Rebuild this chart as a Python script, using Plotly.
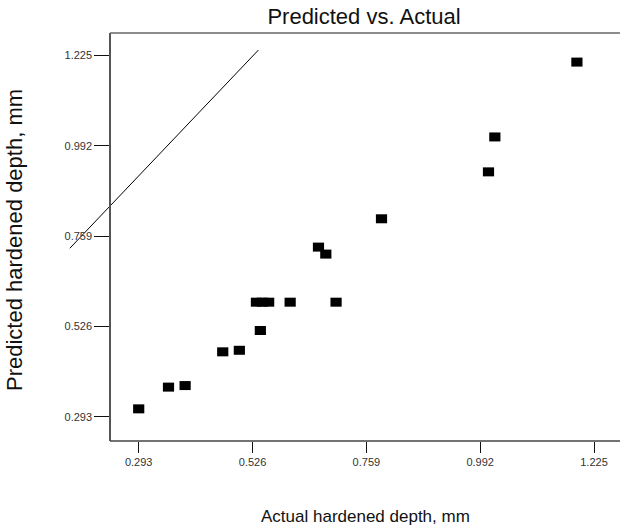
import plotly.graph_objects as go

# Data
actual = [0.293, 0.354, 0.388, 0.465, 0.499, 0.542, 0.534, 0.546, 0.559,
          0.603, 0.697, 0.661, 0.676, 0.790, 1.009, 1.022, 1.190]
predicted = [0.314, 0.370, 0.374, 0.461, 0.465, 0.516, 0.589, 0.589, 0.589,
             0.589, 0.589, 0.731, 0.713, 0.804, 0.925, 1.015, 1.208]
ref_line_x = [0.152, 0.538]
ref_line_y = [0.728, 1.239]
tick_vals = [0.293, 0.526, 0.759, 0.992, 1.225]
tick_text = ["0.293", "0.526", "0.759", "0.992", "1.225"]

FONT = "Liberation Sans, Arial, sans-serif"
W, H = 620, 530
ML, MR, MT, MB = 60, 0, 33, 89
PW = W - ML - MR
PH = H - MT - MB
AXIS_X_PX = 110  # pixel position of the vertical axis
axis_pos = (AXIS_X_PX - ML) / PW

fig = go.Figure()
fig.add_trace(go.Scatter(
    x=ref_line_x, y=ref_line_y, mode="lines",
    line=dict(color="black", width=1), hoverinfo="skip", showlegend=False))
fig.add_trace(go.Scatter(
    x=actual, y=predicted, mode="markers",
    marker=dict(symbol="line-ew", size=8, color="black",
                line=dict(color="black", width=9)),
    showlegend=False))

fig.update_layout(
    width=W, height=H,
    margin=dict(l=ML, r=MR, t=MT, b=MB, pad=0),
    paper_bgcolor="white", plot_bgcolor="white",
    font=dict(family=FONT, color="#222"),
    title=dict(text="Predicted vs. Actual", font=dict(family=FONT, size=22, color="#111"),
               x=(364 - ML) / PW, xref="paper", xanchor="center",
               y=1 - 16 / H, yref="container", yanchor="middle"),
    xaxis=dict(range=[0.1319, 1.2782], domain=[0, 1], showline=False,
               showgrid=False, zeroline=False, ticks="outside", ticklen=11,
               tickwidth=1, tickcolor="#111", tickvals=tick_vals, ticktext=tick_text,
               tickfont=dict(family=FONT, size=11, color="#333")),
    yaxis=dict(range=[0.2311, 1.2830], anchor="free", position=axis_pos,
               showline=True, linecolor="#555", linewidth=1.5,
               showgrid=False, zeroline=False, ticks="outside", ticklen=15,
               tickwidth=1, tickcolor="#111", tickvals=tick_vals, ticktext=tick_text,
               tickfont=dict(family=FONT, size=11, color="#333")),
    shapes=[
        dict(type="line", xref="paper", yref="paper", x0=axis_pos, x1=1, y0=0, y1=0,
             line=dict(color="#444", width=1.5)),
        dict(type="line", xref="paper", yref="paper", x0=axis_pos, x1=1, y0=1, y1=1,
             line=dict(color="#666", width=1.5)),
    ],
    annotations=[
        dict(text="Actual hardened depth, mm", xref="paper", yref="paper",
             x=(365 - ML) / PW, y=(MT + PH - 516) / PH, xanchor="center", yanchor="middle",
             showarrow=False, font=dict(family=FONT, size=17, color="#111")),
        dict(text="Predicted hardened depth, mm", xref="paper", yref="paper",
             x=(14 - ML) / PW, y=(MT + PH - 240) / PH, xanchor="center", yanchor="middle",
             textangle=-90, showarrow=False, font=dict(family=FONT, size=22, color="#111")),
    ],
)

fig.write_html("out.html", config={"displayModeBar": False},
               post_script="document.body.style.margin='0';")
